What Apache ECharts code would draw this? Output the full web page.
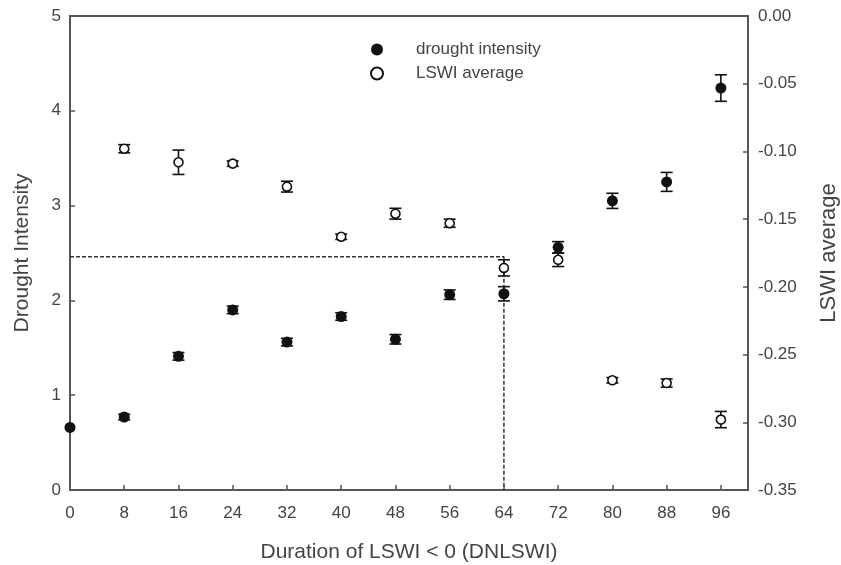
<!DOCTYPE html>
<html>
<head>
<meta charset="utf-8">
<script src="https://cdn.jsdelivr.net/npm/echarts@6/dist/echarts.min.js"></script>
<style>
  html, body { margin: 0; padding: 0; background: #fff; }
  #chart { width: 841px; height: 565px; }
</style>
</head>
<body>
<div id="chart"></div>
<script>
// Duration of LSWI < 0 (days)
const durations = [0, 8, 16, 24, 32, 40, 48, 56, 64, 72, 80, 88, 96];
const droughtIntensity = [0.66, 0.77, 1.41, 1.90, 1.56, 1.83, 1.59, 2.06, 2.07, 2.56, 3.05, 3.25, 4.24];
const droughtErr = [0, 0.03, 0.04, 0.04, 0.04, 0.04, 0.05, 0.05, 0.075, 0.06, 0.08, 0.10, 0.14];

const lswiDurations = [8, 16, 24, 32, 40, 48, 56, 64, 72, 80, 88, 96];
const lswiAverage = [-0.098, -0.108, -0.109, -0.126, -0.163, -0.146, -0.153, -0.186, -0.180, -0.269, -0.271, -0.298];
const lswiErr = [0.003, 0.009, 0.002, 0.004, 0.002, 0.004, 0.003, 0.006, 0.005, 0.002, 0.003, 0.006];

// threshold guide: drought intensity 2.46 reached at 64 days
const guidePath = [[0, 2.46], [64, 2.46], [64, 0]];

const xTicks = [0, 8, 16, 24, 32, 40, 48, 56, 64, 72, 80, 88, 96];

const FONT = 'Liberation Sans, Arial, sans-serif';
const AXIS = '#555';
const TEXT = '#444';

function errorBars(xs, ys, errs, yIndex) {
  return {
    type: 'custom',
    yAxisIndex: yIndex,
    silent: true,
    z: 3,
    data: xs.map((x, i) => [x, ys[i] - errs[i], ys[i] + errs[i]]).filter((d, i) => errs[i] > 0),
    renderItem: function (params, api) {
      const lo = api.coord([api.value(0), api.value(1)]);
      const hi = api.coord([api.value(0), api.value(2)]);
      const w = 6;
      const st = { stroke: '#111', lineWidth: 1.6 };
      return {
        type: 'group',
        children: [
          { type: 'line', shape: { x1: lo[0], y1: lo[1], x2: hi[0], y2: hi[1] }, style: st },
          { type: 'line', shape: { x1: lo[0] - w, y1: lo[1], x2: lo[0] + w, y2: lo[1] }, style: st },
          { type: 'line', shape: { x1: hi[0] - w, y1: hi[1], x2: hi[0] + w, y2: hi[1] }, style: st }
        ]
      };
    }
  };
}

const chart = echarts.init(document.getElementById('chart'));
chart.setOption({
  animation: false,
  backgroundColor: '#fff',
  textStyle: { fontFamily: FONT },
  grid: {
    left: 70, right: 93, top: 16, bottom: 75,
    containLabel: false,
    outerBoundsMode: 'none',
    show: true, borderColor: AXIS, borderWidth: 2, backgroundColor: 'transparent'
  },
  legend: {
    orient: 'vertical',
    left: 370, top: 41,
    padding: 0,
    itemGap: 7,
    itemWidth: 12, itemHeight: 12,
    icon: 'circle',
    data: [
      { name: 'drought intensity' },
      { name: 'LSWI average', itemStyle: { borderWidth: 2 } }
    ],
    textStyle: { fontFamily: FONT, fontSize: 17, color: TEXT, padding: [0, 0, 0, 28] }
  },
  xAxis: {
    type: 'value',
    min: 0, max: 100, interval: 8,
    name: 'Duration of LSWI < 0 (DNLSWI)',
    nameLocation: 'middle',
    nameGap: 52,
    nameTextStyle: { fontFamily: FONT, fontSize: 21, color: TEXT },
    axisLine: { lineStyle: { color: AXIS, width: 2 } },
    axisTick: { inside: true, length: 5, lineStyle: { color: AXIS, width: 1.5 } },
    axisLabel: {
      fontFamily: FONT, fontSize: 17, color: TEXT, margin: 15,
      formatter: v => (xTicks.indexOf(v) >= 0 ? String(v) : '')
    },
    splitLine: { show: false }
  },
  yAxis: [
    {
      type: 'value',
      min: 0, max: 5, interval: 1,
      name: 'Drought Intensity',
      nameLocation: 'middle',
      nameGap: 37,
      nameRotate: 90,
      nameTextStyle: { fontFamily: FONT, fontSize: 21, color: TEXT },
      axisLine: { show: true, lineStyle: { color: AXIS, width: 2 } },
      axisTick: { show: true, inside: true, length: 5, lineStyle: { color: AXIS, width: 1.5 } },
      axisLabel: { fontFamily: FONT, fontSize: 17, color: TEXT, margin: 9 },
      splitLine: { show: false }
    },
    {
      type: 'value',
      min: -0.35, max: 0, interval: 0.05,
      position: 'right',
      name: 'LSWI average',
      nameLocation: 'middle',
      nameGap: 70,
      nameRotate: 90,
      nameTextStyle: { fontFamily: FONT, fontSize: 22, color: TEXT },
      axisLine: { show: true, lineStyle: { color: AXIS, width: 2 } },
      axisTick: { show: true, inside: true, length: 5, lineStyle: { color: AXIS, width: 1.5 } },
      axisLabel: {
        fontFamily: FONT, fontSize: 17, color: TEXT, margin: 10,
        formatter: v => v.toFixed(2)
      },
      splitLine: { show: false }
    }
  ],
  series: [
    {
      name: 'guide',
      type: 'line',
      yAxisIndex: 0,
      data: guidePath,
      symbol: 'none',
      silent: true,
      z: 1,
      lineStyle: { color: '#333', width: 1.5, type: [4, 2] }
    },
    errorBars(durations, droughtIntensity, droughtErr, 0),
    errorBars(lswiDurations, lswiAverage, lswiErr, 1),
    {
      name: 'drought intensity',
      type: 'scatter',
      yAxisIndex: 0,
      data: durations.map((x, i) => [x, droughtIntensity[i]]),
      symbol: 'circle',
      symbolSize: 11,
      z: 4,
      itemStyle: { color: '#111', borderColor: '#111', borderWidth: 0, opacity: 1 }
    },
    {
      name: 'LSWI average',
      type: 'scatter',
      yAxisIndex: 1,
      data: lswiDurations.map((x, i) => [x, lswiAverage[i]]),
      symbol: 'circle',
      symbolSize: 9,
      z: 4,
      itemStyle: { color: '#fff', borderColor: '#111', borderWidth: 1.6, opacity: 1 }
    }
  ]
});
</script>
</body>
</html>
